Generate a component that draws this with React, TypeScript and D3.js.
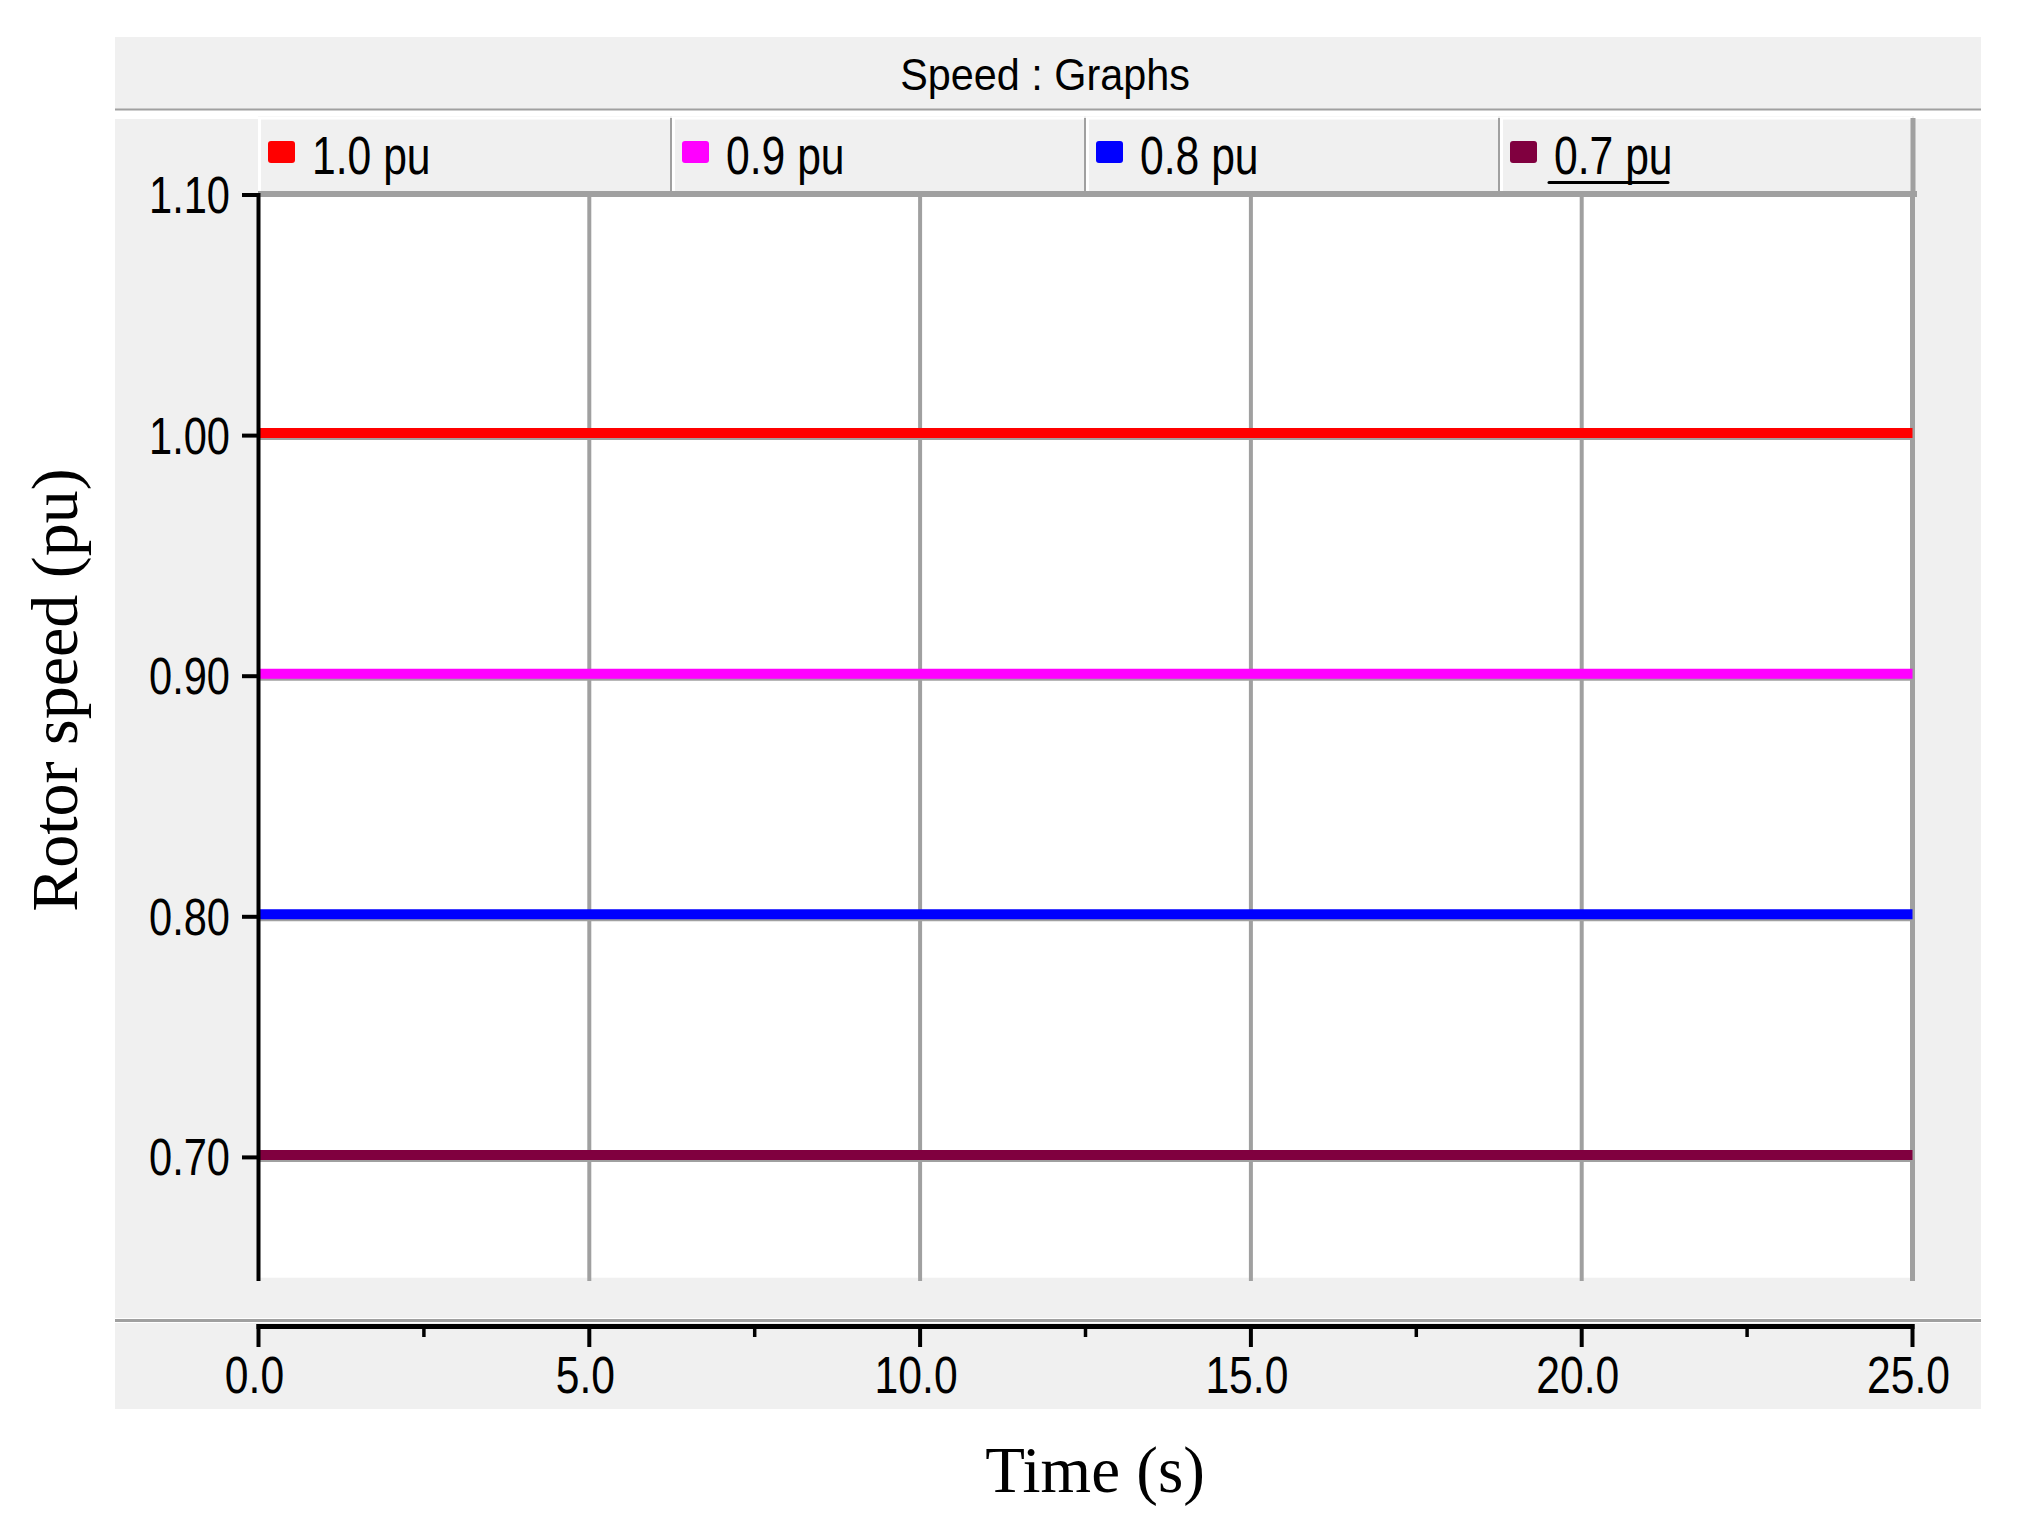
import React from "react";
import * as d3 from "d3";

// ---- data ----
const titleText = "Speed : Graphs";
const seriesNames = ["1.0 pu", "0.9 pu", "0.8 pu", "0.7 pu"];
const seriesColors = ["#ff0000", "#ff00ff", "#0000ff", "#80003f"];
const timeS = [0, 25];
const speed10 = [1.0, 1.0];
const speed09 = [0.9, 0.9];
const speed08 = [0.8, 0.8];
const speed07 = [0.7, 0.7];
const seriesValues = [speed10, speed09, speed08, speed07];
const yTicks = [1.1, 1.0, 0.9, 0.8, 0.7];
const xTicks = [0, 5, 10, 15, 20, 25];
const xMinorTicks = [2.5, 7.5, 12.5, 17.5, 22.5];
const yDomain = [0.65, 1.1];
const xDomain = [0, 25];
const yLabel = "Rotor speed (pu)";
const xLabel = "Time (s)";

const SANS = "'Liberation Sans', Arial, Helvetica, sans-serif";
const SERIF = "'Liberation Serif', 'Times New Roman', serif";
const GRAY = "#a0a0a0";
const PANEL = "#f0f0f0";

export default function App() {
  const W = 2025;
  const H = 1526;
  const panelL = 115;
  const panelR = 1981;
  const plotL = 258.5;
  const plotR = 1912.5;
  const plotT = 195;
  const plotB = 1277.7;

  const x = d3.scaleLinear().domain(xDomain).range([plotL, plotR]);
  const y = d3.scaleLinear().domain(yDomain).range([plotB, plotT]);
  const tabs = d3.scaleBand<string>().domain(seriesNames).range([258, 1914]).padding(0);
  const bw = tabs.bandwidth();

  const fmtY = d3.format(".2f");
  const fmtX = d3.format(".1f");

  const lineGen = (vals: number[]) =>
    d3
      .line<number>()
      .x((_, i) => x(timeS[i]))
      .y((v) => y(v) - 2.5)(vals) || "";

  return (
    <svg
      width={W}
      height={H}
      style={{ position: "absolute", left: 0, top: 0, background: "#ffffff" }}
    >
      <rect x={0} y={0} width={W} height={H} fill="#ffffff" />

      {/* title bar */}
      <rect x={panelL} y={37} width={panelR - panelL} height={72} fill={PANEL} />
      <line x1={panelL} x2={panelR} y1={109.5} y2={109.5} stroke={GRAY} strokeWidth={2} />
      <text
        transform={`translate(1045,90) scale(0.94,1)`}
        textAnchor="middle"
        fontFamily={SANS}
        fontSize={44}
        fill="#000"
      >
        {titleText}
      </text>

      {/* main panel */}
      <rect x={panelL} y={119} width={panelR - panelL} height={1199} fill={PANEL} />
      <line x1={panelL} x2={panelR} y1={1320.5} y2={1320.5} stroke={GRAY} strokeWidth={3} />
      <rect x={panelL} y={1323} width={panelR - panelL} height={86} fill={PANEL} />

      {/* plot area */}
      <rect x={plotL} y={plotT} width={plotR - plotL} height={plotB - plotT} fill="#ffffff" />

      {/* vertical grid */}
      {xTicks
        .filter((t) => t !== xDomain[0])
        .map((t) => (
          <line
            key={`vg${t}`}
            x1={x(t)}
            x2={x(t)}
            y1={t === xDomain[1] ? 191 : 197}
            y2={1281}
            stroke={GRAY}
            strokeWidth={t === xDomain[1] ? 5 : 4}
          />
        ))}

      {/* horizontal grid */}
      {yTicks
        .filter((v) => v !== yDomain[1])
        .map((v) => (
          <line
            key={`hg${v}`}
            x1={plotL}
            x2={plotR}
            y1={y(v) + 2.5}
            y2={y(v) + 2.5}
            stroke={GRAY}
            strokeWidth={4}
          />
        ))}

      {/* series */}
      {seriesValues.map((vals, i) => (
        <path
          key={`s${i}`}
          d={lineGen(vals)}
          fill="none"
          stroke={seriesColors[i]}
          strokeWidth={10}
        />
      ))}

      {/* legend tabs */}
      {seriesNames.map((name, i) => {
        const x0 = tabs(name) as number;
        return (
          <g key={`tab${i}`}>
            <rect x={x0} y={116} width={bw} height={75} fill={PANEL} />
            <line x1={x0} x2={x0 + bw - 2} y1={118} y2={118} stroke="#ffffff" strokeWidth={3} />
            <line x1={x0 + 1.5} x2={x0 + 1.5} y1={117} y2={191} stroke="#ffffff" strokeWidth={3} />
            <line
              x1={x0 + bw - 1}
              x2={x0 + bw - 1}
              y1={118}
              y2={191}
              stroke={GRAY}
              strokeWidth={i === seriesNames.length - 1 ? 5 : 2}
            />
            <rect x={x0 + 10} y={141} width={27} height={22} rx={3} fill={seriesColors[i]} />
            <text
              transform={`translate(${x0 + 54},174) scale(0.79,1)`}
              fontFamily={SANS}
              fontSize={54}
              fill="#000"
            >
              {name}
            </text>
            {i === seriesNames.length - 1 && (
              <line
                x1={x0 + 49}
                x2={x0 + 168}
                y1={182.5}
                y2={182.5}
                stroke="#000"
                strokeWidth={3}
                strokeLinecap="round"
              />
            )}
          </g>
        );
      })}
      <line x1={258} x2={1917} y1={194} y2={194} stroke={GRAY} strokeWidth={6} />

      {/* y axis */}
      <line x1={plotL} x2={plotL} y1={193} y2={1281} stroke="#000" strokeWidth={4} />
      {yTicks.map((v) => (
        <g key={`yt${v}`}>
          <line x1={242} x2={plotL} y1={y(v)} y2={y(v)} stroke="#000" strokeWidth={4} />
          <text
            transform={`translate(230,${y(v) + 18}) scale(0.8,1)`}
            textAnchor="end"
            fontFamily={SANS}
            fontSize={52}
            fill="#000"
          >
            {fmtY(v)}
          </text>
        </g>
      ))}

      {/* x axis */}
      <line x1={plotL - 2} x2={plotR + 2} y1={1326.5} y2={1326.5} stroke="#000" strokeWidth={5} />
      {xTicks.map((t) => (
        <g key={`xt${t}`}>
          <line x1={x(t)} x2={x(t)} y1={1324} y2={1347} stroke="#000" strokeWidth={4} />
          <text
            transform={`translate(${x(t) - 4},1393) scale(0.82,1)`}
            textAnchor="middle"
            fontFamily={SANS}
            fontSize={52}
            fill="#000"
          >
            {fmtX(t)}
          </text>
        </g>
      ))}
      {xMinorTicks.map((t) => (
        <line key={`xm${t}`} x1={x(t)} x2={x(t)} y1={1324} y2={1337} stroke="#000" strokeWidth={3.5} />
      ))}

      {/* axis titles */}
      <text
        transform={`translate(77,690) rotate(-90)`}
        textAnchor="middle"
        fontFamily={SERIF}
        fontSize={66}
        fill="#000"
      >
        {yLabel}
      </text>
      <text x={1095} y={1492} textAnchor="middle" fontFamily={SERIF} fontSize={65} fill="#000">
        {xLabel}
      </text>
    </svg>
  );
}
